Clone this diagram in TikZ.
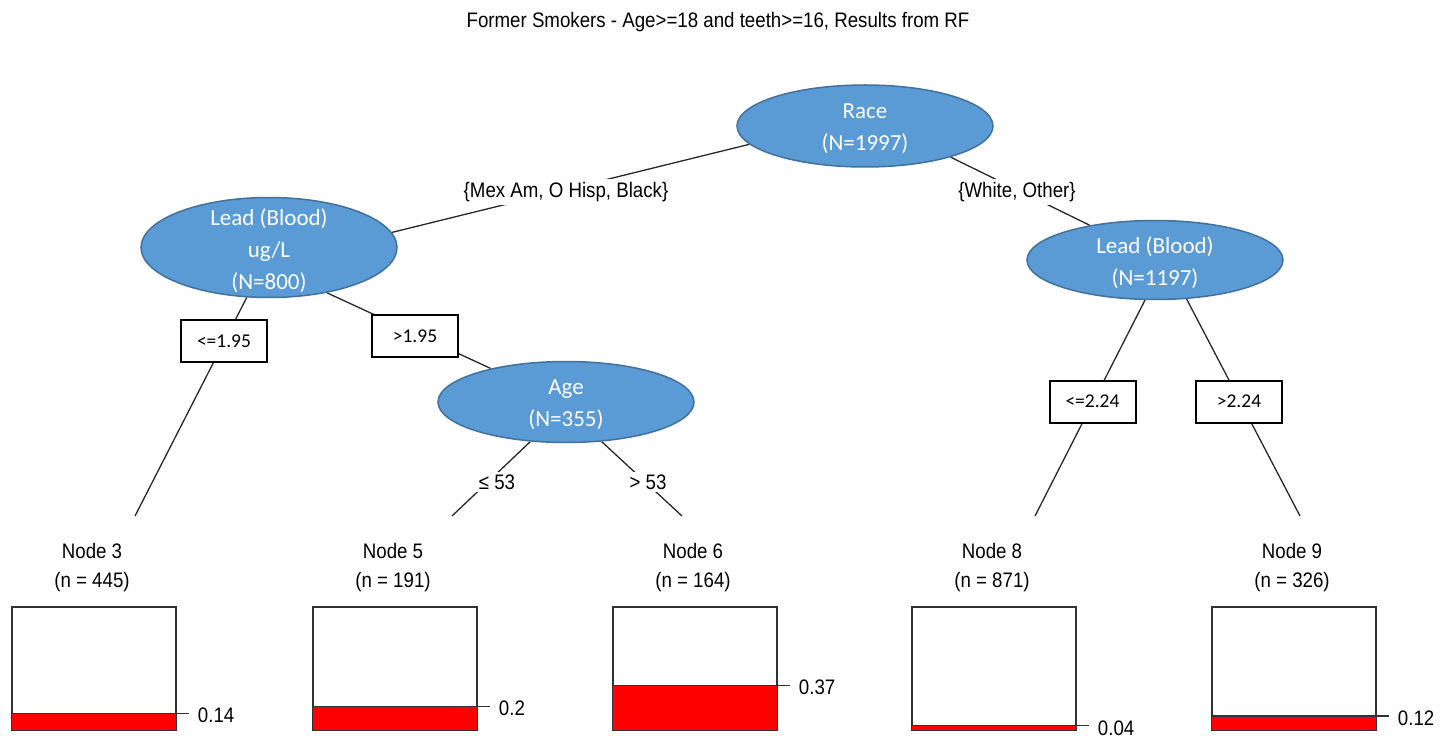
\documentclass[tikz,border=0pt]{standalone}
\usepackage{fontspec}
\setmainfont{Liberation Sans}
\newfontfamily\rfont[FakeStretch=0.89]{Liberation Sans}
\newfontfamily\cfont{Carlito}
\usetikzlibrary{shapes.geometric,backgrounds,calc}
\definecolor{ellfill}{RGB}{91,155,213}
\definecolor{ellline}{RGB}{65,113,156}
\definecolor{edgecol}{RGB}{40,40,40}
\definecolor{boxcol}{RGB}{50,50,50}
\tikzset{
  ell/.style={ellipse,draw=ellline,fill=ellfill,line width=1.5pt,minimum width=256pt,minimum height=82pt,inner sep=0pt},
  elltext/.style={text=white,align=center,inner sep=0pt,yshift=-3pt,font=\cfont\fontsize{23}{32}\selectfont},
  rtext/.style={inner sep=0pt,font=\rfont\fontsize{21}{25}\selectfont},
  elabel/.style={rtext,fill=white,inner sep=3pt},
  cbox/.style={draw=black,line width=2pt,fill=white,minimum width=86pt,minimum height=42pt,inner sep=0pt,font=\cfont\fontsize{19.5}{22}\selectfont},
  edge/.style={draw=edgecol,line width=1.3pt},
  leafbox/.style={draw=boxcol,line width=1.5pt,minimum width=164pt,minimum height=123pt,inner sep=0pt},
  barline/.style={draw=boxcol,line width=1.3pt}
}
\newcommand\leafnode[5]{%
  \node[rtext] (#1t) at (#2-2,551) {Node #3};
  \node[rtext] (#1n) at (#2-2,582) {(n = #4)};
  \node[leafbox] (#1) at (#2,668.5) {};
  \pgfmathsetmacro\hh{123*#5}
  \draw[barline,fill=red] (#1.south west) rectangle ([yshift=\hh pt]#1.south east);
  \draw[barline] ([yshift=\hh pt]#1.south east) -- ++(12,0) coordinate (#1tick);
  \node[rtext,anchor=west] (#1v) at ([xshift=9pt,yshift=-2pt]#1tick) {#5};
}
\begin{document}
\begin{tikzpicture}[x=1pt,y=-1pt]
\useasboundingbox (0,0) rectangle (1444,738);
\begin{pgfonlayer}{background}
\fill[white] (0,0) rectangle (1444,738);
\end{pgfonlayer}

\node[rtext] (title) at (718,22) {Former Smokers - Age>=18 and teeth>=16, Results from RF};

% inner nodes
\node[ell] (root) at (865,126) {};
\node[elltext] (rootT) at (root) {Race\\(N=1997)};
\node[ell,minimum height=100pt] (lead1) at (269,247.5) {};
\node[elltext] (lead1T) at (lead1) {Lead (Blood)\\ug/L\\(N=800)};
\node[ell,minimum height=79pt] (lead2) at (1155,260) {};
\node[elltext] (lead2T) at (lead2) {Lead (Blood)\\(N=1197)};
\node[ell,minimum height=81pt] (age) at (566,402) {};
\node[elltext] (ageT) at (age) {Age\\(N=355)};

% leaf ends of connectors
\coordinate (e3) at (135,516);
\coordinate (e5) at (452,516);
\coordinate (e6) at (682,516);
\coordinate (e8) at (1035,516);
\coordinate (e9) at (1300,516);

\begin{pgfonlayer}{background}
\draw[edge] (root.189) -- (lead1.7);
\draw[edge] (root.-20) -- (lead2.152);
\draw[edge] (lead1.246) -- (e3);
\draw[edge] (lead1.-38) -- (age.156);
\draw[edge] (age.228) -- (e5);
\draw[edge] (age.-48) -- (e6);
\draw[edge] (lead2.256) -- (e8);
\draw[edge] (lead2.-51) -- (e9);
\end{pgfonlayer}

% edge labels
\node[elabel] (l1) at (566,192) {\{Mex Am, O Hisp, Black\}};
\node[elabel] (l2) at (1017,192) {\{White, Other\}};
\node[cbox] (c1) at (224,341) {<=1.95};
\node[cbox] (c2) at (415,336) {>1.95};
\node[elabel] (l3) at (497,482) {≤ 53};
\node[elabel] (l4) at (648,482) {> 53};
\node[cbox] (c3) at (1092.5,401.5) {<=2.24};
\node[cbox] (c4) at (1239,401.5) {>2.24};

% leaves
\leafnode{n3}{94}{3}{445}{0.14}
\leafnode{n5}{395}{5}{191}{0.2}
\leafnode{n6}{695}{6}{164}{0.37}
\leafnode{n8}{994}{8}{871}{0.04}
\leafnode{n9}{1294}{9}{326}{0.12}
\end{tikzpicture}
\end{document}
